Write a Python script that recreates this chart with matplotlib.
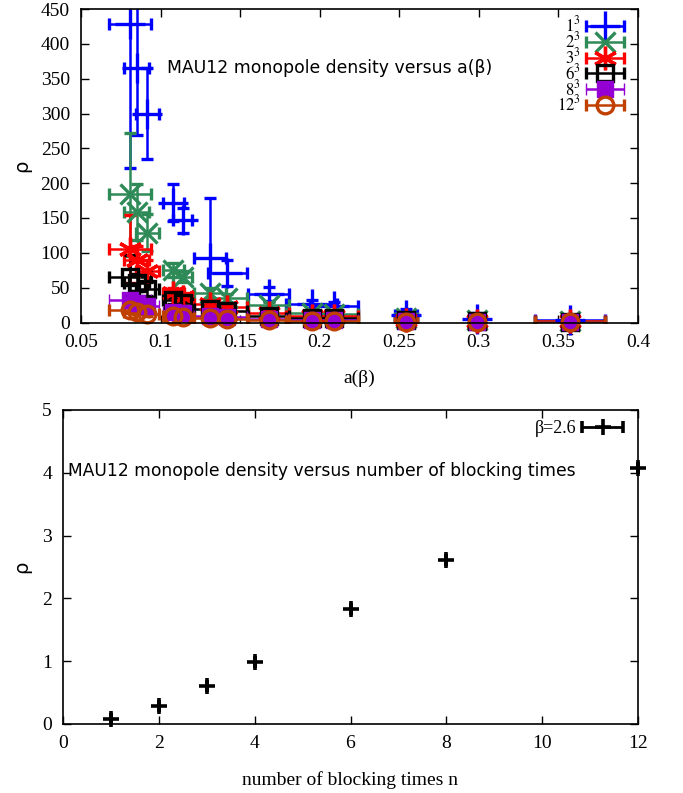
import numpy as np
import matplotlib
matplotlib.use('Agg')
import matplotlib.pyplot as plt
from matplotlib.container import ErrorbarContainer
from matplotlib.legend_handler import HandlerErrorbar

plt.rcParams['mathtext.fontset'] = 'stix'

#---------data: monopole density vs a(beta)----------
a_vals = [0.0808, 0.0850, 0.0917, 0.108, 0.114, 0.131, 0.142, 0.168, 0.195, 0.209, 0.254, 0.299, 0.357]
a_err = [0.013, 0.008, 0.007, 0.0067, 0.006, 0.010, 0.012, 0.013, 0.016, 0.015, 0.007, 0.004, 0.022]

rho_1 = [429, 366, 300, 172, 147, 92, 71, 41, 27, 23, 11, 5, 3]
err_1 = [207, 97, 65, 27, 18, 86, 18, 10, 6, 6, 8, 9, 1]
rho_2 = [184, 159, 129, 76, 66, 42, 35, 25, 14, 12, 6, 3, 2]
err_2 = [88, 40, 27, 10, 8, 7, 6, 4, 3, 3, 2, 1, 1]
rho_3 = [105, 90, 74, 42, 36, 27, 22, 14, 10, 9, 4, 2, 1.5]
err_3 = [49, 20, 15, 8, 6, 5, 4, 3, 2, 2, 1, 1, 0.5]
rho_6 = [66, 57, 48, 32, 28, 20, 17, 10, 7, 6, 3, 1.5, 1]
err_6 = [31, 12, 10, 5, 4, 3, 3, 2, 1, 1, 1, 0.5, 0.5]
rho_8 = [32, 28, 24, 15, 13, 10, 8, 5, 4, 3.5, 2, 1, 0.8]
err_8 = [8, 6, 5, 3, 2, 2, 2, 1, 1, 1, 0.5, 0.5, 0.3]
rho_12 = [18, 15, 12, 9, 8, 6, 5, 3, 2.5, 2, 1, 0.7, 0.5]
err_12 = [4, 3, 3, 2, 2, 1, 1, 1, 0.5, 0.5, 0.3, 0.2, 0.2]

labels = ['$1^3$', '$2^3$', '$3^3$', '$6^3$', '$8^3$', '$12^3$']

#---------data: monopole density vs blocking times----------
n_block = [1, 2, 3, 4, 6, 8, 12]
rho_block = [0.075, 0.29, 0.605, 0.99, 1.83, 2.61, 4.07]

serif = 'Liberation Serif'
hmap = {ErrorbarContainer: HandlerErrorbar(xerr_size=1.15)}

fig = plt.figure(figsize=(6.83, 7.93), dpi=100)

# ---- top panel ----
ax1 = fig.add_axes([81/683, 1-322.5/793, (638-81)/683, (322.5-9)/793])
styles = [
    (rho_1, err_1, '#0000ff', '+', dict(ms=22, mew=2.4, mfc='none')),
    (rho_2, err_2, '#2e8b57', 'x', dict(ms=15, mew=2.4, mfc='none')),
    (rho_3, err_3, '#ff0000', (6, 2, 0), dict(ms=17, mew=2.4, mfc='none')),
    (rho_6, err_6, '#000000', 's', dict(ms=11, mew=2.4, mfc='none')),
    (rho_8, err_8, '#9400d3', 's', dict(ms=12, mew=1, mfc='#9400d3')),
    (rho_12, err_12, '#c04000', 'o', dict(ms=12, mew=2.4, mfc='none')),
]
handles = []
for (ys, es, col, mk, kw) in styles:
    eb = ax1.errorbar(a_vals, ys, xerr=a_err, yerr=es, fmt='', ls='none', marker=mk,
                      color=col, mec=col, elinewidth=1.8, capsize=4, capthick=1.8,
                      clip_on=False, **kw)
    for c in eb[1]:
        c.set_clip_on(True)
    for c in eb[2]:
        c.set_clip_on(True)
    # proxy for legend: horizontal bar only
    h = ax1.errorbar([np.nan], [np.nan], xerr=[0.01], fmt='', ls='none', marker=mk,
                     color=col, mec=col, elinewidth=1.8, capsize=4, capthick=1.8, **kw)
    handles.append(h)

ax1.set_xlim(0.05, 0.4)
ax1.set_ylim(0, 450)
ax1.set_xticks([0.05, 0.1, 0.15, 0.2, 0.25, 0.3, 0.35, 0.4])
ax1.set_xticklabels(['0.05', '0.1', '0.15', '0.2', '0.25', '0.3', '0.35', '0.4'])
ax1.set_yticks(range(0, 451, 50))
ax1.set_xlabel('a(β)', fontsize=14, family=serif, labelpad=14)
ax1.set_ylabel('ρ', fontsize=14, family='DejaVu Sans', labelpad=7)
ax1.text(0.154, 0.812, 'MAU12 monopole density versus a(β)', transform=ax1.transAxes,
         fontsize=12.4, family='DejaVu Sans', va='center', ha='left')
leg1 = ax1.legend(handles, labels, loc='upper right', bbox_to_anchor=(0.987, 1.0),
                  frameon=False, markerfirst=False, labelspacing=-0.25,
                  handlelength=2.3, handletextpad=0.3, borderaxespad=0,
                  handler_map=hmap, prop={'family': serif, 'size': 12})

# ---- bottom panel ----
ax2 = fig.add_axes([63/683, 1-724/793, (638-63)/683, (724-410)/793])
hb = ax2.errorbar(n_block, rho_block, xerr=[0]*len(n_block), fmt='+', color='black',
                  ms=11, mew=2.6, elinewidth=1.6, capsize=4, capthick=1.6, clip_on=False)
pb = ax2.errorbar([np.nan], [np.nan], xerr=[0.01], fmt='+', color='black',
                  ms=11, mew=2.6, elinewidth=2, capsize=4, capthick=2)
ax2.set_xlim(0, 12)
ax2.set_ylim(0, 5)
ax2.set_xticks(range(0, 13, 2))
ax2.set_yticks(range(0, 6))
ax2.set_xlabel('number of blocking times n', fontsize=14, family=serif, labelpad=14)
ax2.set_ylabel('ρ', fontsize=14, family='DejaVu Sans', labelpad=8)
ax2.text(0.009, 0.806, 'MAU12 monopole density versus number of blocking times',
         transform=ax2.transAxes, fontsize=12.3, family='DejaVu Sans', va='center', ha='left')
ax2.legend([pb], ['β=2.6'], loc='upper right', bbox_to_anchor=(0.987, 0.99),
           frameon=False, markerfirst=False, handlelength=2.3, handletextpad=0.3,
           borderaxespad=0, handler_map=hmap, prop={'family': serif, 'size': 13})

for ax in (ax1, ax2):
    ax.tick_params(direction='in', top=True, right=True, length=6, width=1,
                   labelsize=14, pad=8)
    for lab in ax.get_xticklabels() + ax.get_yticklabels():
        lab.set_family(serif)
    for sp in ax.spines.values():
        sp.set_linewidth(1.2)

fig.savefig('out.png', dpi=100)
